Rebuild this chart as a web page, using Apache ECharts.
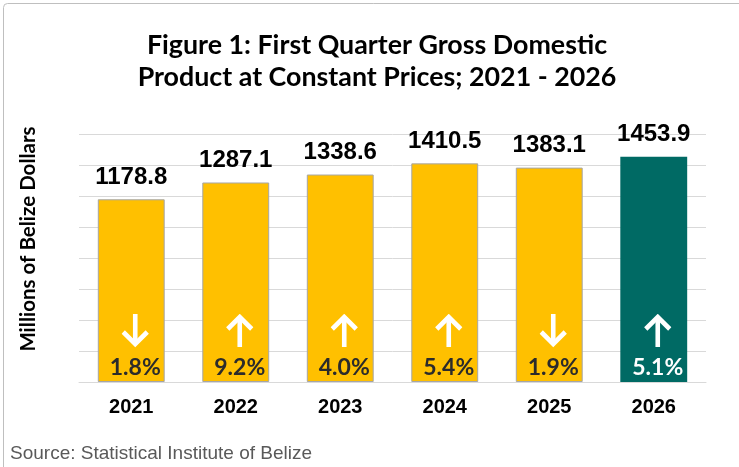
<!DOCTYPE html>
<html>
<head>
<meta charset="utf-8">
<script src="https://cdn.jsdelivr.net/npm/echarts@6/dist/echarts.min.js"></script>
<style>
html,body{margin:0;padding:0;background:#fff;}
#chart{width:739px;height:467px;}
</style>
</head>
<body>
<div id="chart"></div>
<script>
const years = ['2021', '2022', '2023', '2024', '2025', '2026'];
const gdp = [1178.8, 1287.1, 1338.6, 1410.5, 1383.1, 1453.9];
const growth = [1.8, 9.2, 4.0, 5.4, 1.9, 5.1];
const direction = ['down', 'up', 'up', 'up', 'down', 'up'];
const highlightYear = '2026';

const YELLOW = '#FFC000';
const TEAL = '#006A64';

function arrowSvg(dir) {
  const up = '<svg xmlns="http://www.w3.org/2000/svg" width="28" height="34" viewBox="0 0 28 34">' +
    '<g fill="none" stroke="#ffffff" stroke-width="4.6" stroke-linecap="butt" stroke-linejoin="miter">' +
    '<line x1="14" y1="33" x2="14" y2="3"/><polyline points="2,15 14,3 26,15"/></g></svg>';
  const down = '<svg xmlns="http://www.w3.org/2000/svg" width="28" height="34" viewBox="0 0 28 34">' +
    '<g fill="none" stroke="#ffffff" stroke-width="4.6" stroke-linecap="butt" stroke-linejoin="miter">' +
    '<line x1="14" y1="0" x2="14" y2="30"/><polyline points="2,18 14,30 26,18"/></g></svg>';
  return 'data:image/svg+xml;charset=utf-8,' + encodeURIComponent(dir === 'up' ? up : down);
}

function loadImg(src) {
  return new Promise(res => {
    const im = new Image();
    im.onload = () => res(im);
    im.onerror = () => res(im);
    im.src = src;
  });
}

Promise.all([loadImg(arrowSvg('up')), loadImg(arrowSvg('down'))]).then(([upImg, downImg]) => {
  const chart = echarts.init(document.getElementById('chart'), null, {renderer: 'canvas'});

  const mainData = gdp.map((v, i) => ({
    value: v,
    itemStyle: years[i] === highlightYear
      ? {color: TEAL, borderColor: '#9CC3BF', borderWidth: 0}
      : {color: YELLOW, borderColor: '#A6A6A6', borderWidth: 1}
  }));

  const overlayData = gdp.map((v, i) => {
    const hl = years[i] === highlightYear;
    return {
      value: v,
      label: {
        show: true,
        position: 'insideBottom',
        distance: -6,
        offset: [4, 0],
        formatter: '{' + (direction[i] === 'up' ? 'up' : 'dn') + '|}\n{p|' + growth[i].toFixed(1) + '%}',
        rich: {
          up: {width: 28, height: 34, backgroundColor: {image: upImg}},
          dn: {width: 28, height: 34, backgroundColor: {image: downImg}},
          p: {
            fontFamily: 'Lato', fontWeight: 'bold', fontSize: 23, lineHeight: 40,
            color: hl ? '#FFFFFF' : '#2B2B2B'
          }
        }
      }
    };
  });

  const option = {
    animation: false,
    backgroundColor: '#FFFFFF',
    title: {
      text: 'Figure 1: First Quarter Gross Domestic\nProduct at Constant Prices; 2021 - 2026',
      left: 372,
      top: 24,
      textAlign: 'center',
      textStyle: {
        fontFamily: 'Lato', fontWeight: 'bold', fontSize: 26.8, lineHeight: 32, color: '#000000'
      }
    },
    grid: {left: 79, right: 33, top: 134, bottom: 85},
    xAxis: {
      type: 'category',
      data: years,
      axisLine: {show: true, lineStyle: {color: '#D9D9D9', width: 1}},
      axisTick: {show: false},
      axisLabel: {
        margin: 15,
        fontFamily: 'Liberation Sans, Arial', fontWeight: 'bold', fontSize: 20, color: '#000000'
      }
    },
    yAxis: {
      type: 'value',
      min: 0,
      max: 1600,
      interval: 200,
      axisLine: {show: false},
      axisTick: {show: false},
      axisLabel: {show: false},
      splitLine: {lineStyle: {color: '#D9D9D9', width: 1}}
    },
    graphic: [
      {
        type: 'rect',
        shape: {x: 3.5, y: 3.5, width: 760, height: 500, r: 4},
        style: {fill: 'none', stroke: '#BFBFBF', lineWidth: 1},
        silent: true, z: -1
      },
      {
        type: 'text',
        x: 28, y: 239,
        rotation: Math.PI / 2,
        style: {
          text: 'Millions of Belize Dollars',
          fontFamily: 'Lato', fontWeight: 'bold', fontSize: 20.5, fill: '#000000',
          align: 'center', verticalAlign: 'middle'
        }
      },
      {
        type: 'text',
        x: 10, y: 454,
        style: {
          text: 'Source: Statistical Institute of Belize',
          fontFamily: 'Liberation Sans, Arial', fontSize: 19, fill: '#595959',
          align: 'left', verticalAlign: 'middle'
        }
      }
    ],
    series: [
      {
        type: 'bar',
        data: mainData,
        barCategoryGap: '36%',
        label: {
          show: true,
          position: 'top',
          distance: 10,
          formatter: p => p.value.toFixed(1),
          fontFamily: 'Liberation Sans, Arial', fontWeight: 'bold', fontSize: 24, color: '#000000'
        },
        z: 2
      },
      {
        type: 'bar',
        data: overlayData,
        barGap: '-100%',
        barCategoryGap: '36%',
        itemStyle: {color: 'rgba(0,0,0,0)'},
        silent: true,
        z: 3
      }
    ]
  };
  chart.setOption(option);
});
</script>
</body>
</html>
